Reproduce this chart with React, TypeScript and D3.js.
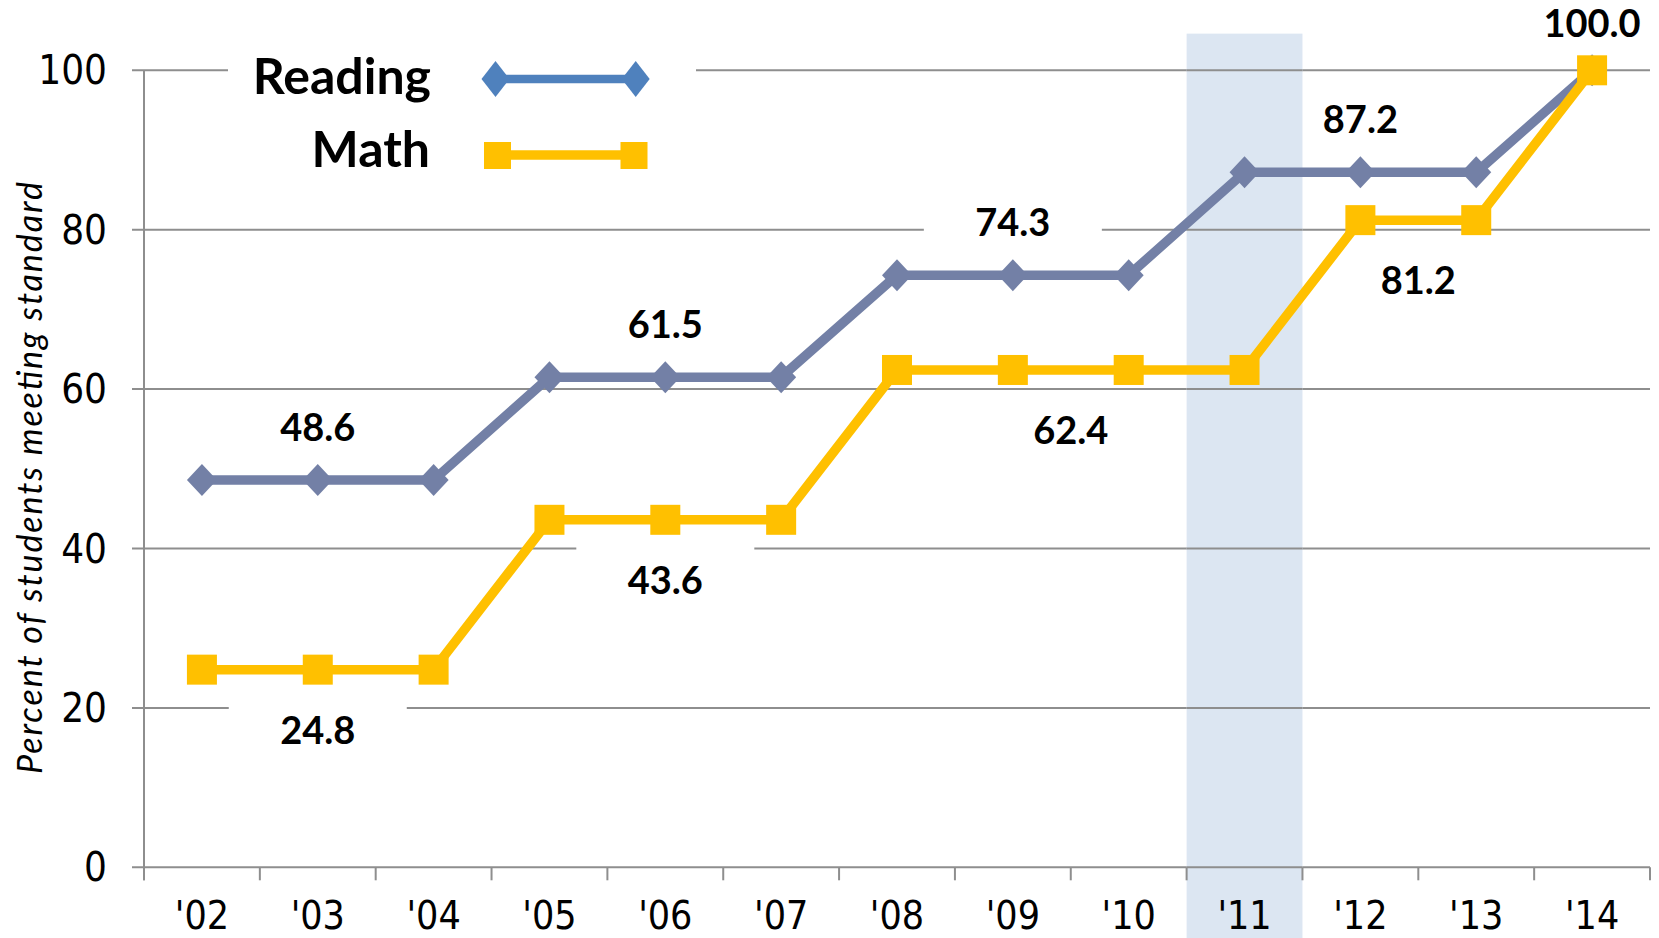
import React, { useEffect } from 'react';
import * as d3 from 'd3';

const years = ["'02", "'03", "'04", "'05", "'06", "'07", "'08", "'09", "'10", "'11", "'12", "'13", "'14"];
const reading = [48.6, 48.6, 48.6, 61.5, 61.5, 61.5, 74.3, 74.3, 74.3, 87.2, 87.2, 87.2, 100.0];
const math = [24.8, 24.8, 24.8, 43.6, 43.6, 43.6, 62.4, 62.4, 62.4, 62.4, 81.2, 81.2, 100.0];
const yTicks = [0, 20, 40, 60, 80, 100];
const highlightYear = "'11";
// label anchors: category index (may be fractional) and value
const readingLabelIdx = [1, 4, 7, 10, 12];
const readingLabelVal = [48.6, 61.5, 74.3, 87.2, 100.0];
const mathLabelIdx = [1, 4, 7.5, 10.5];
const mathLabelVal = [24.8, 43.6, 62.4, 81.2];
const yTitle = 'Percent of students meeting standard';
const seriesNames = ['Reading', 'Math'];

const W = 1659, H = 938;
const M = { left: 144, right: 1650, top: 70.3, bottom: 867.3 };
const C = {
  reading: '#7380A6',
  readingLegend: '#4F81BD',
  math: '#FFC000',
  band: '#DCE6F2',
  grid: '#8E8E8E',
  text: '#000000',
};
const tickFont = "'Liberation Sans Narrow', 'DejaVu Sans Condensed', Lato, sans-serif";
const boldFont = "Lato, 'Open Sans', sans-serif";

export default function App() {
  useEffect(() => {
    document.body.style.margin = '0';
    document.body.style.overflow = 'hidden';
  }, []);

  const x = d3.scaleBand<string>().domain(years).range([M.left, M.right]).padding(0);
  const bw = x.step();
  const cx = (i: number) => (x(years[0]) as number) + bw * (i + 0.5);
  const y = d3.scaleLinear().domain([0, 100]).range([M.bottom, M.top]);

  const line = d3.line<number>().x((_, i) => cx(i)).y((d) => y(d));

  const hx = x(highlightYear) as number;
  const bandTop = y(104.6);

  const diamond = (px: number, py: number, hw: number, hh: number) =>
    `M${px},${py - hh}L${px + hw},${py}L${px},${py + hh}L${px - hw},${py}Z`;

  const boxW = 178;
  const aboveLabels = readingLabelIdx.map((idx, k) => {
    const v = readingLabelVal[k];
    const base = Math.max(y(v) - 39, 37);
    return { x: cx(idx), base, text: v.toFixed(1), top: base - 27 - 15, bottom: base + 10 };
  });
  const belowLabels = mathLabelIdx.map((idx, k) => {
    const v = mathLabelVal[k];
    const base = y(v) + 74;
    return { x: cx(idx), base, text: v.toFixed(1), top: base - 27 - 21, bottom: base + 10 };
  });
  const labels = [...aboveLabels, ...belowLabels];

  const gridLines = (prefix: string) =>
    yTicks.map((t) => (
      <line key={prefix + t} x1={M.left - 12} x2={M.right} y1={y(t)} y2={y(t)} stroke={C.grid} strokeWidth={2} />
    ));

  return (
    <svg width={W} height={H} style={{ display: 'block', position: 'absolute', left: 0, top: 0 }}>
      <defs>
        <clipPath id="bandClip">
          <rect x={hx} y={bandTop} width={bw} height={H - bandTop} />
        </clipPath>
      </defs>
      <rect x={0} y={0} width={W} height={H} fill="#fff" />
      {/* gridlines */}
      {gridLines('g')}
      {/* label white boxes (mask gridlines) */}
      {labels.map((l, i) => (
        <rect key={'b' + i} x={l.x - boxW / 2} y={l.top} width={boxW} height={l.bottom - l.top} fill="#fff" />
      ))}
      {/* legend box */}
      <rect x={228} y={40} width={468} height={150} fill="#fff" />
      {/* highlight band with its own gridlines */}
      <rect x={hx} y={bandTop} width={bw} height={H - bandTop} fill={C.band} />
      <g clipPath="url(#bandClip)">{gridLines('c')}</g>
      {/* y axis */}
      <line x1={M.left} x2={M.left} y1={M.top} y2={M.bottom + 13} stroke={C.grid} strokeWidth={2} />
      {/* x ticks */}
      {d3.range(years.length + 1).map((i) => {
        const tx = M.left + bw * i;
        return <line key={i} x1={tx} x2={tx} y1={M.bottom} y2={M.bottom + 13} stroke={C.grid} strokeWidth={2} />;
      })}
      {/* y tick labels */}
      {yTicks.map((t) => (
        <text key={t} x={107} y={y(t) + 14} textAnchor="end" fontFamily={tickFont} fontSize={40} fill={C.text}>
          {t}
        </text>
      ))}
      {/* x tick labels */}
      {years.map((yr, i) => (
        <text key={yr} x={cx(i)} y={929} textAnchor="middle" fontFamily={tickFont} fontSize={39} fill={C.text}>
          {yr}
        </text>
      ))}
      {/* y title */}
      <text
        transform={`translate(42,478) rotate(-90)`}
        textAnchor="middle"
        fontFamily={boldFont}
        fontStyle="italic"
        fontSize={34}
        textLength={592}
        lengthAdjust="spacing"
        fill={C.text}
      >
        {yTitle}
      </text>
      {/* reading line */}
      <path d={line(reading) || ''} fill="none" stroke={C.reading} strokeWidth={9.5} strokeLinejoin="round" />
      {reading.map((v, i) => (
        <path key={'r' + i} d={diamond(cx(i), y(v), 15, 16)} fill={C.reading} />
      ))}
      {/* math line */}
      <path d={line(math) || ''} fill="none" stroke={C.math} strokeWidth={9.5} strokeLinejoin="round" />
      {math.map((v, i) => (
        <rect key={'m' + i} x={cx(i) - 15} y={y(v) - 15} width={30} height={30} fill={C.math} />
      ))}
      {/* data labels */}
      {labels.map((l, i) => (
        <text key={'t' + i} x={l.x} y={l.base} textAnchor="middle" fontFamily={boldFont} fontWeight={700} fontSize={38} fill={C.text}>
          {l.text}
        </text>
      ))}
      {/* legend */}
      <text x={431} y={94} textAnchor="end" fontFamily={boldFont} fontWeight={700} fontSize={50} fill={C.text}>
        {seriesNames[0]}
      </text>
      <line x1={495.5} x2={635.7} y1={79} y2={79} stroke={C.readingLegend} strokeWidth={8.5} />
      <path d={diamond(495.5, 79, 14, 18)} fill={C.readingLegend} />
      <path d={diamond(635.7, 79, 14, 18)} fill={C.readingLegend} />
      <text x={430} y={167} textAnchor="end" fontFamily={boldFont} fontWeight={700} fontSize={50} fill={C.text}>
        {seriesNames[1]}
      </text>
      <line x1={497.5} x2={634} y1={155} y2={155} stroke={C.math} strokeWidth={9.5} />
      <rect x={484} y={142} width={27} height={27} fill={C.math} />
      <rect x={620.5} y={142} width={27} height={27} fill={C.math} />
    </svg>
  );
}
